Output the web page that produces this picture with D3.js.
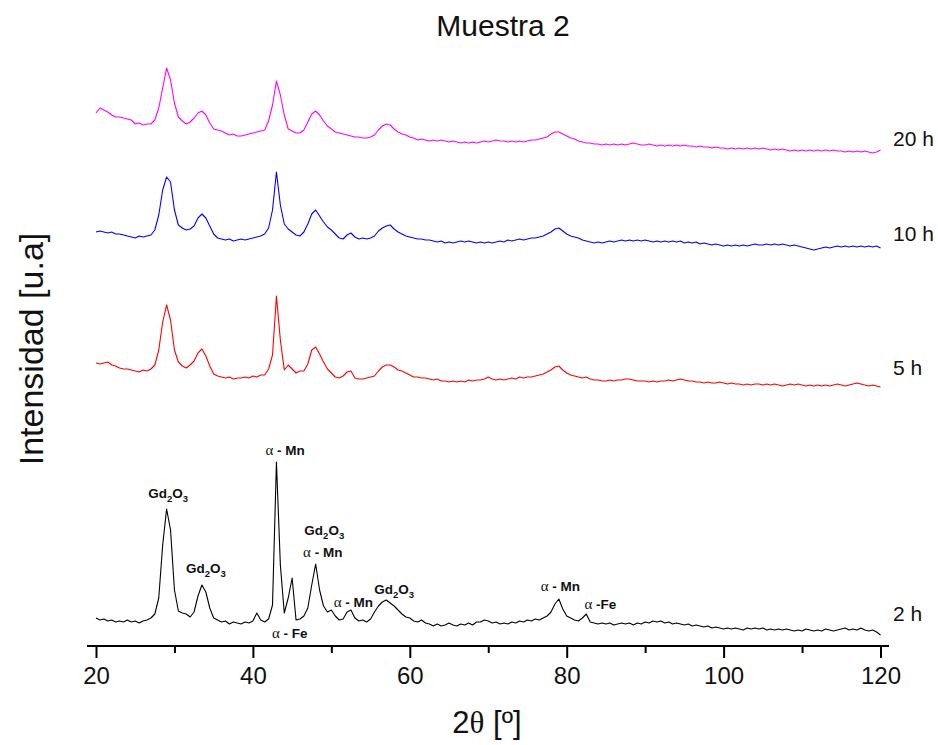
<!DOCTYPE html>
<html>
<head>
<meta charset="utf-8">
<script src="https://cdn.jsdelivr.net/npm/d3@7"></script>
<style>
  html, body { margin: 0; padding: 0; background: #fff; }
  svg { display: block; }
  text { font-family: Arial, "Liberation Sans", sans-serif; }
</style>
</head>
<body>
<svg id="chart" width="938" height="745"></svg>
<script>
// ---------- DATA ----------
const title = "Muestra 2";
const xLabel = "2θ [º]";
const yLabel = "Intensidad [u.a]";
const twoTheta = d3.range(20, 120.001, 0.5); // sampling grid (degrees)
const seriesNames = ["2 h", "5 h", "10 h", "20 h"];
const seriesColors = ["#000000", "#ff0000", "#0000ff", "#ff00ff"];
const majorTicks = [20, 40, 60, 80, 100, 120];
const minorTicks = [30, 50, 70, 90, 110];
const labelLevels = [25, 271, 405, 500];

const int2h = [
  28,26,27,25,26,24,25,24,26,24,
  25,23,25,26,28,32,48,101,137,116,
  56,35,33,32,29,34,50,61,54,38,
  28,26,24,25,22,24,23,22,24,23,
  25,33,26,24,27,41,184,81,33,48,
  68,26,27,30,38,61,82,56,40,34,
  36,30,26,27,34,36,28,25,26,24,
  27,34,40,44,46,43,40,36,32,29,
  28,25,24,26,23,22,20,22,20,21,
  23,21,20,22,21,23,21,24,24,26,
  25,23,24,22,23,22,24,23,25,24,
  26,25,27,26,28,30,34,42,47,37,
  30,28,26,25,28,32,24,23,22,23,
  22,23,21,22,23,22,23,21,23,22,
  24,23,25,24,25,23,24,22,23,22,
  21,22,20,21,20,19,20,18,19,18,
  17,18,17,18,17,16,18,17,18,17,
  18,16,17,16,17,16,17,16,15,16,
  15,17,16,15,16,15,17,16,15,16,
  17,18,16,17,16,18,16,15,16,14,
  11
];
const int5h = [
  283,282,283,284,281,280,278,277,277,276,
  275,274,276,275,277,281,296,324,341,326,
  296,284,280,278,281,285,293,297,290,280,
  272,270,269,268,269,267,268,268,269,268,
  270,269,271,271,277,291,350,306,276,281,
  277,273,275,275,282,296,299,292,284,277,
  273,269,268,270,274,275,268,267,267,268,
  269,270,275,279,281,281,279,276,275,273,
  271,269,269,268,268,267,266,267,265,265,
  264,265,264,265,264,266,265,266,266,267,
  269,267,266,267,266,267,268,267,269,268,
  269,269,270,271,272,274,276,279,280,276,
  273,271,270,269,268,269,267,266,266,265,
  265,266,265,266,266,267,267,266,265,265,
  265,264,265,264,265,265,266,265,266,267,
  266,265,265,264,264,263,264,263,263,264,
  263,262,263,262,262,261,262,261,262,262,
  261,262,261,262,261,260,261,262,261,262,
  261,260,261,260,261,260,261,260,261,262,
  261,260,261,262,263,262,261,260,261,260,
  259
];
const int10h = [
  414,415,414,413,414,412,412,411,410,409,
  408,410,409,410,411,416,431,456,469,464,
  436,421,418,416,417,420,428,432,428,420,
  412,408,407,406,407,405,406,407,406,407,
  408,409,410,412,418,436,474,441,422,417,
  414,411,410,414,422,432,436,430,424,419,
  416,412,408,407,411,413,409,407,408,407,
  408,410,415,418,420,421,417,414,412,410,
  409,408,407,407,406,406,405,404,405,403,
  404,403,404,405,404,405,404,403,404,403,
  404,403,404,405,404,406,405,406,407,406,
  407,408,408,409,410,412,414,417,418,415,
  412,410,409,408,406,405,404,403,404,403,
  404,405,404,405,406,405,406,405,406,405,
  406,405,404,405,404,405,404,405,404,405,
  403,404,403,404,402,403,402,401,402,401,
  400,401,400,401,400,401,400,401,402,401,
  401,402,401,402,401,402,401,400,401,400,
  399,398,397,396,397,398,399,398,399,400,
  399,400,399,400,399,400,399,400,399,400,
  398
];
const int20h = [
  533,538,536,534,531,529,529,528,527,526,
  522,523,521,522,522,526,538,558,578,566,
  543,529,525,522,524,528,533,535,531,523,
  517,516,515,513,511,512,510,510,511,512,
  513,514,515,516,525,541,565,551,531,517,
  515,513,513,516,524,532,535,531,525,520,
  517,514,513,512,511,510,509,509,508,508,
  509,511,516,520,522,521,517,514,512,511,
  509,508,506,507,506,505,506,505,506,505,
  504,505,504,503,504,503,504,503,504,505,
  504,505,506,505,505,504,505,504,505,504,
  505,506,506,507,508,509,512,514,514,512,
  510,508,507,505,504,503,503,502,502,501,
  502,501,502,501,502,501,502,503,502,501,
  501,502,501,500,501,500,501,500,501,500,
  501,500,500,499,500,499,499,498,499,498,
  498,497,498,497,498,497,498,497,498,497,
  498,497,496,497,496,497,496,495,496,495,
  496,495,496,495,496,495,496,495,496,495,
  495,494,495,494,495,494,495,494,493,494,
  496
];
const seriesValues = [int2h, int5h, int10h, int20h];

// Peak annotations on the 2 h pattern: [phase, 2θ, intensity]
const peakLabels = [
  ["Gd2O3", 29.2, 148],
  ["Gd2O3", 34.0, 73],
  ["α - Mn", 44.1, 191],
  ["Gd2O3", 49.1, 111],
  ["α - Mn", 48.9, 89],
  ["α - Fe", 44.7, 8],
  ["α - Mn", 52.8, 39],
  ["Gd2O3", 58.0, 52],
  ["α - Mn", 79.2, 55],
  ["α -Fe", 84.3, 37]
];

// ---------- CHART ----------
const svg = d3.select("#chart");
const x = d3.scaleLinear().domain([20, 120]).range([96, 880.5]);
const y = d3.scaleLinear().domain([0, 600]).range([646, 46]);

svg.append("text")
  .attr("x", 503).attr("y", 36)
  .attr("text-anchor", "middle")
  .attr("font-size", 30)
  .attr("fill", "#111")
  .text(title);

// traces
const line = d3.line()
  .x((d, i) => x(twoTheta[i]))
  .y(d => y(d));

seriesValues.forEach((vals, k) => {
  svg.append("path")
    .datum(vals)
    .attr("fill", "none")
    .attr("stroke", seriesColors[k])
    .attr("stroke-width", 1.1)
    .attr("stroke-linejoin", "round")
    .attr("d", line);
  svg.append("text")
    .attr("x", 893)
    .attr("y", y(labelLevels[k]))
    .attr("font-size", 21)
    .attr("fill", "#111")
    .text(seriesNames[k]);
});

// annotations
const ann = svg.append("g").attr("font-size", 13.5).attr("font-weight", "bold").attr("fill", "#111");
peakLabels.forEach(([txt, t, v]) => {
  const tx = ann.append("text")
    .attr("x", x(t)).attr("y", y(v))
    .attr("text-anchor", "middle");
  if (txt.startsWith("Gd")) {
    tx.append("tspan").text("Gd");
    tx.append("tspan").attr("font-size", 9.5).attr("dy", 4).text("2");
    tx.append("tspan").attr("dy", -4).text("O");
    tx.append("tspan").attr("font-size", 9.5).attr("dy", 4).text("3");
  } else {
    tx.append("tspan")
      .attr("font-family", "'Liberation Serif', 'Times New Roman', serif")
      .attr("font-weight", "normal")
      .attr("font-size", 15)
      .text("α");
    tx.append("tspan").text(txt.slice(1));
  }
});

// x axis
const axisY = y(0);
svg.append("line")
  .attr("x1", 87).attr("x2", 889)
  .attr("y1", axisY).attr("y2", axisY)
  .attr("stroke", "#000").attr("stroke-width", 2.2);

const gMajor = svg.append("g")
  .attr("transform", `translate(0,${axisY})`)
  .call(d3.axisBottom(x).tickValues(majorTicks).tickSize(12).tickPadding(9).tickFormat(d3.format("d")));
gMajor.select(".domain").remove();
gMajor.selectAll(".tick line").attr("stroke-width", 2);
gMajor.selectAll(".tick text")
  .attr("font-size", 24)
  .attr("font-family", "Arial, 'Liberation Sans', sans-serif")
  .attr("fill", "#111");

const gMinor = svg.append("g")
  .attr("transform", `translate(0,${axisY})`)
  .call(d3.axisBottom(x).tickValues(minorTicks).tickSize(7).tickFormat(""));
gMinor.select(".domain").remove();
gMinor.selectAll(".tick line").attr("stroke-width", 2);

// axis titles
const xl = svg.append("text")
  .attr("x", 487).attr("y", 733)
  .attr("text-anchor", "middle")
  .attr("font-size", 31)
  .attr("fill", "#111");
xl.append("tspan").text("2");
xl.append("tspan").attr("font-family", "'Liberation Serif', 'Times New Roman', serif").text("θ");
xl.append("tspan").text(" [º]");

svg.append("text")
  .attr("transform", "translate(43,349) rotate(-90)")
  .attr("text-anchor", "middle")
  .attr("font-size", 34)
  .attr("fill", "#111")
  .text(yLabel);
</script>
</body>
</html>
